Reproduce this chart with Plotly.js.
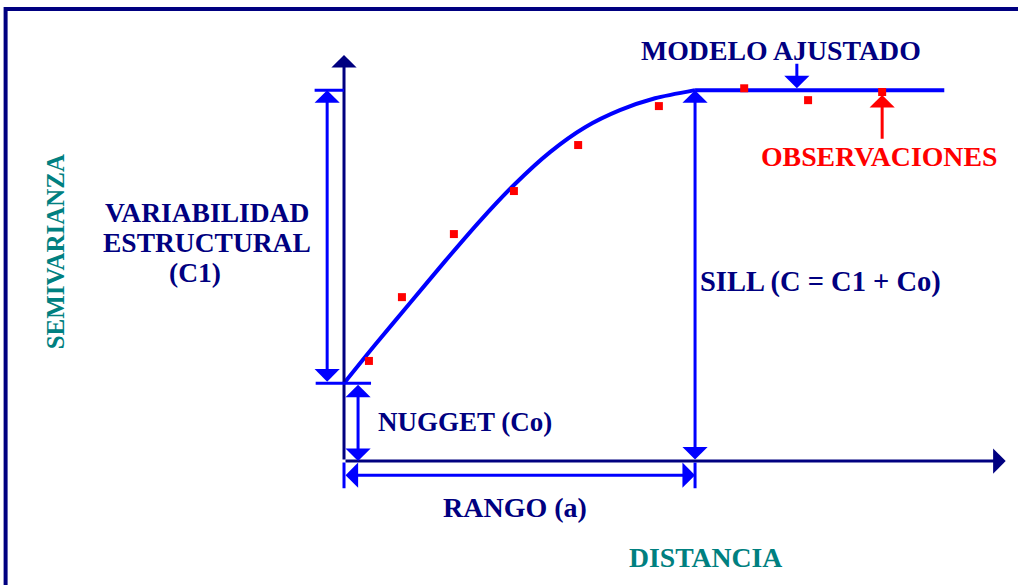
<!DOCTYPE html>
<html>
<head>
<meta charset="utf-8">
<script src="https://cdn.plot.ly/plotly-3.0.1.min.js"></script>
<style>
  html, body { margin: 0; padding: 0; background: #fff; }
  #chart { width: 1018px; height: 585px; }
</style>
</head>
<body>
<div id="chart"></div>
<script>
var curveDist  = [0, 0.88, 1.88, 2.88, 3.87, 4.87, 5.87, 6.87, 7.86, 8.86, 10];
var curveGamma = [2.1, 3.13, 4.26, 5.39, 6.47, 7.47, 8.33, 9.0, 9.46, 9.78, 10];
var flatDist   = [10, 17.1];
var flatGamma  = [10, 10];

var obsDist  = [0.71, 1.65, 3.13, 4.84, 6.67, 8.97, 11.4, 13.22, 15.33];
var obsGamma = [2.7, 4.42, 6.12, 7.28, 8.52, 9.57, 10.05, 9.73, 9.95];

var nugget = 2.1;   // Co
var sill = 10;      // C = C1 + Co
var rango = 10;     // a
var xAxisEnd = 18.85;
var yAxisEnd = 10.95;

var NAVY = '#000080', BLUE = '#0000FF', RED = '#FF0000', TEAL = '#008080';
var FONT = 'Liberation Serif, Times New Roman, serif';

var traces = [
  {
    x: curveDist, y: curveGamma, type: 'scatter', mode: 'lines',
    line: {color: BLUE, width: 4, shape: 'spline', smoothing: 0.7}, hoverinfo: 'skip'
  },
  {
    x: flatDist, y: flatGamma, type: 'scatter', mode: 'lines',
    line: {color: BLUE, width: 4}, hoverinfo: 'skip'
  },
  {
    x: obsDist, y: obsGamma, type: 'scatter', mode: 'markers',
    marker: {symbol: 'square', size: 8, color: RED}, hoverinfo: 'skip'
  }
];

// arrow helper: tail (x0,y0) -> head (x1,y1)
function arrow(x0, y0, x1, y1, color, width, both) {
  return {
    x: x1, y: y1, ax: x0, ay: y0, xref: 'x', yref: 'y', axref: 'x', ayref: 'y',
    text: '', showarrow: true, arrowcolor: color, arrowwidth: width,
    arrowhead: 1, arrowsize: 1.4, startarrowhead: 1, startarrowsize: 1.4,
    arrowside: both ? 'end+start' : 'end', standoff: 0, startstandoff: 0
  };
}
function line(x0, y0, x1, y1, color, width) {
  var a = arrow(x0, y0, x1, y1, color, width, false);
  a.arrowside = 'none';
  return a;
}
function label(txt, x, y, color, size, angle) {
  return {
    x: x, y: y, xref: 'x', yref: 'y', text: '<b>' + txt + '</b>', showarrow: false,
    font: {family: FONT, size: size, color: color}, textangle: angle || 0,
    xanchor: 'center', yanchor: 'middle'
  };
}

var annotations = [
  // axes
  arrow(0, 0, 0, yAxisEnd, NAVY, 3, false),
  arrow(0, 0, xAxisEnd, 0, NAVY, 3, false),
  // structural variance C1
  line(-0.88, sill, 0, sill, BLUE, 3),
  line(-0.85, nugget, 0.77, nugget, BLUE, 3),
  arrow(-0.48, nugget, -0.48, sill, BLUE, 3, true),
  // nugget
  arrow(0.4, nugget, 0.4, 0, BLUE, 3, true),
  // range
  line(0, 0, 0, -0.73, BLUE, 3),
  line(rango, 0, rango, -0.73, BLUE, 3),
  arrow(0, -0.38, rango, -0.38, BLUE, 3, true),
  // sill
  arrow(rango, 0, rango, sill, BLUE, 3, true),
  // pointers
  arrow(12.9, 10.75, 12.9, 10.05, BLUE, 3, false),
  arrow(15.33, 8.65, 15.33, 9.87, RED, 3, false),
  // texts
  label('MODELO AJUSTADO', 12.45, 11.08, NAVY, 27.8),
  label('OBSERVACIONES', 15.24, 8.22, RED, 27.8),
  label('VARIABILIDAD', -3.9, 6.71, NAVY, 27.5),
  label('ESTRUCTURAL', -3.9, 5.9, NAVY, 27.5),
  label('(C1)', -4.25, 5.09, NAVY, 27.5),
  label('SEMIVARIANZA', -8.23, 5.63, TEAL, 25, -90),
  label('SILL (C = C1 + Co)', 13.56, 4.82, NAVY, 28.5),
  label('NUGGET (Co)', 3.45, 1.05, NAVY, 27),
  label('RANGO (a)', 4.87, -1.24, NAVY, 28),
  label('DISTANCIA', 10.31, -2.59, TEAL, 27.7)
];

var hidden = {visible: false, showgrid: false, zeroline: false, fixedrange: true};

var layout = {
  width: 1018, height: 585,
  margin: {l: 0, r: 0, t: 0, b: 0},
  paper_bgcolor: '#fff', plot_bgcolor: '#fff',
  showlegend: false,
  xaxis: Object.assign({range: [-9.8, 19.2]}, hidden),
  yaxis: Object.assign({range: [-3.34, 12.43]}, hidden),
  annotations: annotations,
  shapes: [
    {type: 'line', xref: 'paper', yref: 'paper', x0: 0.004, x1: 1, y0: 0.9846, y1: 0.9846,
     line: {color: NAVY, width: 4}},
    {type: 'line', xref: 'paper', yref: 'paper', x0: 0.0055, x1: 0.0055, y0: 0, y1: 0.988,
     line: {color: NAVY, width: 4}}
  ]
};

Plotly.newPlot('chart', traces, layout, {staticPlot: true});
</script>
</body>
</html>
